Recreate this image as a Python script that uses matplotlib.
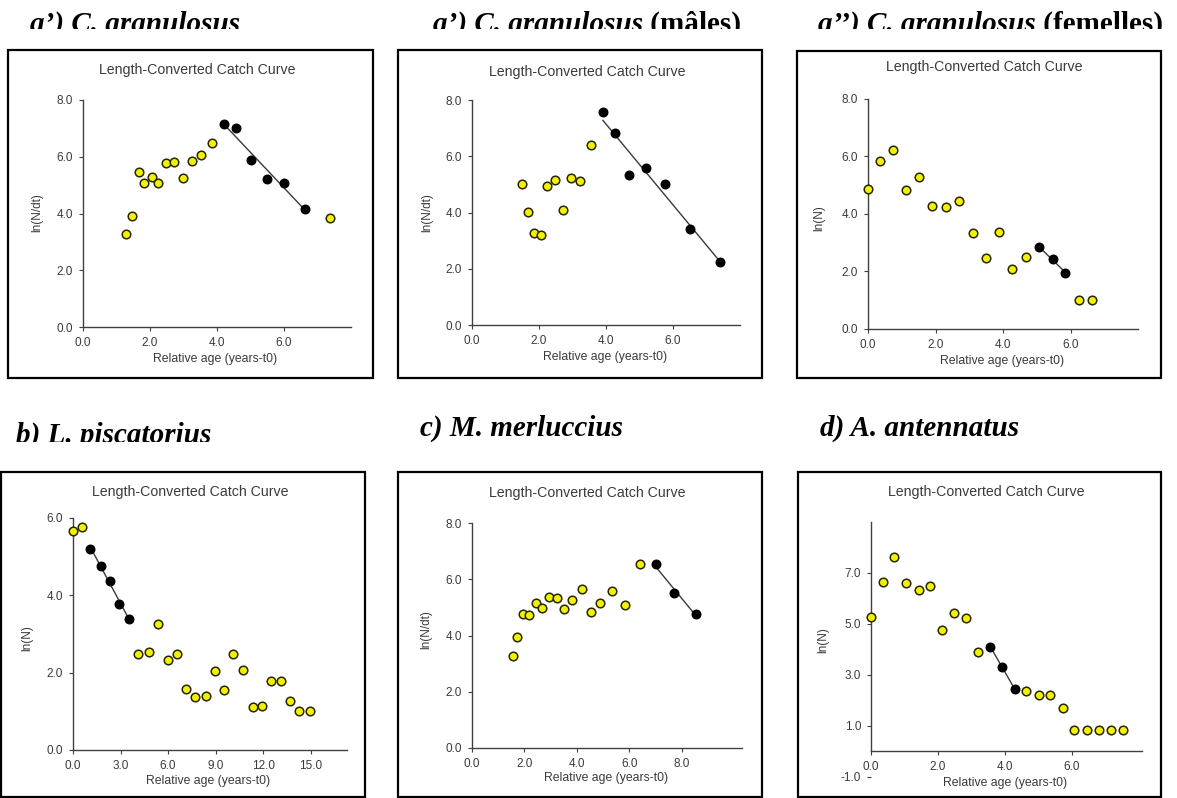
import numpy as np
import matplotlib
matplotlib.use('Agg')
import matplotlib.pyplot as plt
from matplotlib.patches import Rectangle
from matplotlib.transforms import Bbox

W, H = 1177, 798

# ---------------- data ----------------
title_txt = "Length-Converted Catch Curve"
xlabel_txt = "Relative age (years-t0)"

# a') C. granulosus
p1_yx = [1.28, 1.47, 1.66, 1.83, 2.05, 2.25, 2.48, 2.73, 2.98, 3.25, 3.53, 3.85, 7.38]
p1_yy = [3.27, 3.90, 5.47, 5.07, 5.28, 5.08, 5.79, 5.83, 5.24, 5.85, 6.06, 6.47, 3.85]
p1_bx = [4.20, 4.58, 5.02, 5.48, 6.01, 6.64]
p1_by = [7.14, 7.03, 5.87, 5.21, 5.09, 4.17]
p1_xticks = [0, 2, 4, 6]
p1_yticks = [0, 2, 4, 6, 8]

# a') C. granulosus (males)
p2_yx = [1.49, 1.66, 1.85, 2.05, 2.25, 2.47, 2.71, 2.95, 3.23, 3.56]
p2_yy = [5.00, 4.01, 3.26, 3.19, 4.93, 5.16, 4.10, 5.24, 5.12, 6.39]
p2_bx = [3.91, 4.27, 4.68, 5.19, 5.77, 6.50, 7.41]
p2_by = [7.59, 6.83, 5.33, 5.60, 5.02, 3.43, 2.23]
p2_xticks = [0, 2, 4, 6]
p2_yticks = [0, 2, 4, 6, 8]

# a'') C. granulosus (femelles)
p3_yx = [0.00, 0.36, 0.74, 1.13, 1.52, 1.91, 2.30, 2.70, 3.10, 3.50, 3.89, 4.28, 4.68, 6.26, 6.65]
p3_yy = [4.86, 5.83, 6.24, 4.84, 5.30, 4.29, 4.24, 4.44, 3.34, 2.48, 3.36, 2.08, 2.51, 1.00, 1.00]
p3_bx = [5.06, 5.47, 5.84]
p3_by = [2.85, 2.44, 1.96]
p3_xticks = [0, 2, 4, 6]
p3_yticks = [0, 2, 4, 6, 8]

# b) L. piscatorius
p4_yx = [0.00, 0.55, 4.09, 4.79, 5.36, 5.97, 6.56, 7.13, 7.70, 8.37, 8.94, 9.53, 10.13,
         10.74, 11.37, 11.96, 12.51, 13.12, 13.71, 14.30, 14.94]
p4_yy = [5.67, 5.78, 2.47, 2.53, 3.27, 2.33, 2.47, 1.59, 1.38, 1.39, 2.04, 1.54, 2.49,
         2.07, 1.12, 1.14, 1.79, 1.79, 1.28, 1.01, 1.01]
p4_bx = [1.10, 1.77, 2.36, 2.93, 3.54]
p4_by = [5.20, 4.75, 4.37, 3.78, 3.38]
p4_xticks = [0, 3, 6, 9, 12, 15]
p4_yticks = [0, 2, 4, 6]

# c) M. merluccius
p5_yx = [1.57, 1.73, 1.95, 2.19, 2.43, 2.66, 2.93, 3.23, 3.50, 3.83, 4.18, 4.53, 4.90,
         5.35, 5.84, 6.39]
p5_yy = [3.27, 3.93, 4.78, 4.74, 5.17, 4.97, 5.36, 5.34, 4.94, 5.28, 5.66, 4.83, 5.17,
         5.60, 5.09, 6.54]
p5_bx = [7.01, 7.69, 8.56]
p5_by = [6.54, 5.50, 4.76]
p5_xticks = [0, 2, 4, 6, 8]
p5_yticks = [0, 2, 4, 6, 8]

# d) A. antennatus
p6_yx = [0.00, 0.35, 0.70, 1.06, 1.42, 1.77, 2.13, 2.49, 2.85, 3.20, 4.64, 5.01, 5.36,
         5.73, 6.07, 6.45, 6.81, 7.18, 7.52]
p6_yy = [5.27, 6.61, 7.62, 6.58, 6.31, 6.46, 4.75, 5.40, 5.23, 3.87, 2.37, 2.18, 2.18,
         1.67, 0.84, 0.84, 0.84, 0.84, 0.84]
p6_bx = [3.57, 3.92, 4.29]
p6_by = [4.07, 3.31, 2.43]
p6_xticks = [0, 2, 4, 6]
p6_yticks = [-1, 1, 3, 5, 7]

# ---------------- figure ----------------
fig = plt.figure(figsize=(W / 100, H / 100), dpi=100)
fig.patch.set_facecolor('white')

SANS = 'Liberation Sans'
SERIF = 'Liberation Serif'
GREY = '#3a3a3a'


def fx(x):
    return x / W


def fy(y):
    return 1 - y / H


def box(x0, y0, x1, y1):
    fig.add_artist(Rectangle((fx(x0), fy(y1)), (x1 - x0) / W, (y1 - y0) / H,
                             transform=fig.transFigure, fill=False,
                             ec='black', lw=1.6))


def panel(left, right, top, bottom, xlim, ylim, xticks, yticks,
          yx, yy, bx, by, ylabel, title_xy, xl_xy, yl_xy, xaxis_at_zero=False):
    ax = fig.add_axes([fx(left), fy(bottom), (right - left) / W, (bottom - top) / H])
    ax.set_xlim(*xlim)
    ax.set_ylim(*ylim)
    ax.patch.set_alpha(0)
    for s in ['top', 'right']:
        ax.spines[s].set_visible(False)
    for s in ['left', 'bottom']:
        ax.spines[s].set_color('#404040')
        ax.spines[s].set_linewidth(1.0)
    if xaxis_at_zero:
        ax.spines['bottom'].set_position(('data', 0))
        ax.spines['left'].set_bounds(0, ylim[1])
    ax.set_xticks(xticks)
    ax.set_xticklabels(['%.1f' % v for v in xticks])
    ax.set_yticks(yticks)
    ax.set_yticklabels(['%.1f' % v for v in yticks])
    ax.tick_params(direction='out', length=3, width=0.8, color='#404040',
                   labelsize=8.5, labelcolor=GREY, pad=4)
    for lab in ax.get_xticklabels() + ax.get_yticklabels():
        lab.set_fontfamily(SANS)
    ax.scatter(yx, yy, s=38, c='#f2f200', edgecolors='#262600', linewidths=1.1,
               zorder=3, clip_on=False)
    ax.scatter(bx, by, s=38, c='black', edgecolors='black', linewidths=1.0,
               zorder=3, clip_on=False)
    k, b = np.polyfit(bx, by, 1)
    xs = np.array([min(bx), max(bx)])
    ax.plot(xs, k * xs + b, color=GREY, lw=1.0, zorder=2)
    fig.text(fx(title_xy[0]), fy(title_xy[1]), title_txt, ha='center', va='center',
             fontsize=10.2, color=GREY, family=SANS)
    fig.text(fx(xl_xy[0]), fy(xl_xy[1]), xlabel_txt, ha='center', va='center',
             fontsize=8.8, color=GREY, family=SANS)
    fig.text(fx(yl_xy[0]), fy(yl_xy[1]), ylabel, ha='center', va='center',
             fontsize=8.5, color=GREY, family=SANS, rotation=90)
    return ax


renderer = fig.canvas.get_renderer()


def heading(x, y, parts, clip_y=None):
    """parts: list of (text, italic). Baseline at image pixel y."""
    cur = x
    for txt, ital in parts:
        t = fig.text(fx(cur), fy(y), txt, ha='left', va='baseline',
                     fontsize=21, fontweight='bold',
                     fontstyle='italic' if ital else 'normal',
                     family=SERIF, color='black')
        if clip_y is not None:
            t.set_clip_box(Bbox.from_extents(0, H - clip_y, W, H))
            t.set_clip_on(True)
        ext = t.get_window_extent(renderer)
        cur = ext.x1


# boxes
box(8, 50, 373, 378)
box(398, 50, 762, 378)
box(797, 51, 1161, 378)
box(1, 472, 365, 797)
box(398, 472, 762, 797)
box(798, 472, 1161, 797)

panel(83, 351, 100, 327, (0, 8), (0, 8), p1_xticks, p1_yticks,
      p1_yx, p1_yy, p1_bx, p1_by, 'ln(N/dt)', (197, 70), (215, 359), (37, 213))
panel(472, 740, 100, 325, (0, 8), (0, 8), p2_xticks, p2_yticks,
      p2_yx, p2_yy, p2_bx, p2_by, 'ln(N/dt)', (587, 72), (605, 357), (427, 213))
panel(868, 1138, 99, 329, (0, 8), (0, 8), p3_xticks, p3_yticks,
      p3_yx, p3_yy, p3_bx, p3_by, 'ln(N)', (984, 67), (1002, 361), (819, 218))
panel(73, 347, 518, 750, (0, 17.3), (0, 6), p4_xticks, p4_yticks,
      p4_yx, p4_yy, p4_bx, p4_by, 'ln(N)', (190, 492), (208, 781), (27, 638))
panel(472, 742, 523, 748, (0, 10.3), (0, 8), p5_xticks, p5_yticks,
      p5_yx, p5_yy, p5_bx, p5_by, 'ln(N/dt)', (587, 493), (606, 778), (426, 630))
panel(871, 1142, 521.5, 776.5, (0, 8.1), (-1, 9), p6_xticks, p6_yticks,
      p6_yx, p6_yy, p6_bx, p6_by, 'ln(N)', (986, 492), (1005, 783), (823, 640),
      xaxis_at_zero=True)

heading(30, 32, [("a\u2019) C. granulosus", True)], clip_y=28.5)
heading(433, 32, [("a\u2019) C. granulosus", True), (" (m\u00e2les)", False)], clip_y=28.5)
heading(818, 32, [("a\u2019\u2019) C. granulosus", True), (" (femelles)", False)], clip_y=28.5)
heading(16, 443, [("b) L. piscatorius", True)], clip_y=441.7)
heading(420, 436, [("c) M. merluccius", True)])
heading(820, 436, [("d) A. antennatus", True)])

fig.savefig('out.png', dpi=100)
